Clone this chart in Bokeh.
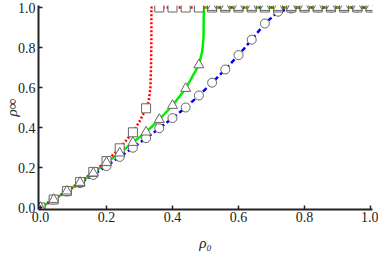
from bokeh.plotting import figure
from bokeh.models import FixedTicker, PrintfTickFormatter
from bokeh.embed import file_html
from bokeh.resources import INLINE

# ---- data ----
marker_x = [0.00, 0.04, 0.08, 0.12, 0.16, 0.20, 0.24, 0.28, 0.32, 0.36, 0.40, 0.44, 0.48,
            0.52, 0.56, 0.60, 0.64, 0.68, 0.72, 0.76, 0.80, 0.84, 0.88, 0.92, 0.96, 1.00]

red_sq_y = [0.0, 0.04, 0.082, 0.127, 0.178, 0.232, 0.296, 0.376, 0.496,
            1.0, 1.0, 1.0, 1.0, 1.0, 1.0, 1.0, 1.0, 1.0, 1.0, 1.0, 1.0, 1.0, 1.0, 1.0, 1.0, 1.0]
green_tri_y = [0.0, 0.04, 0.082, 0.125, 0.172, 0.225, 0.272, 0.325, 0.377, 0.44, 0.51, 0.595, 0.713,
               1.0, 1.0, 1.0, 1.0, 1.0, 1.0, 1.0, 1.0, 1.0, 1.0, 1.0, 1.0, 1.0]
blue_circ_y = [0.0, 0.04, 0.08, 0.122, 0.163, 0.207, 0.253, 0.299, 0.347, 0.396, 0.447, 0.50, 0.56,
               0.624, 0.69, 0.762, 0.839, 0.92, 0.979, 0.995, 1.0, 1.0, 1.0, 1.0, 1.0, 1.0]

red_line_x = [0.0, 0.04, 0.08, 0.12, 0.16, 0.20, 0.24, 0.28, 0.30, 0.32, 0.328, 0.333, 0.335, 0.336, 0.336, 1.0]
red_line_y = [0.0, 0.04, 0.082, 0.127, 0.178, 0.232, 0.296, 0.376, 0.43, 0.496, 0.53, 0.6, 0.7, 0.85, 1.0, 1.0]

green_line_x = [0.0, 0.04, 0.08, 0.12, 0.16, 0.20, 0.24, 0.28, 0.32, 0.36, 0.40, 0.44, 0.48, 0.49, 0.494, 0.495, 1.0]
green_line_y = [0.0, 0.04, 0.082, 0.125, 0.172, 0.225, 0.272, 0.325, 0.377, 0.44, 0.51, 0.595, 0.713, 0.78, 0.85, 1.0, 1.0]

blue_line_x = [0.0, 0.04, 0.08, 0.12, 0.16, 0.20, 0.24, 0.28, 0.32, 0.36, 0.40, 0.44, 0.48,
               0.52, 0.56, 0.60, 0.64, 0.68, 0.72, 0.76, 0.78, 1.0]
blue_line_y = [0.0, 0.04, 0.08, 0.122, 0.163, 0.207, 0.253, 0.299, 0.347, 0.396, 0.447, 0.50, 0.56,
               0.624, 0.69, 0.762, 0.839, 0.92, 0.979, 0.995, 1.0, 1.0]

ticks = [0.0, 0.2, 0.4, 0.6, 0.8, 1.0]
x_label = "ρ₀"
y_label = "ρ∞"

FONT = "Liberation Serif"

p = figure(width=378, height=253, x_range=(-0.006, 1.006), y_range=(-0.01, 1.01),
           output_backend="svg", toolbar_location=None,
           min_border_left=37, min_border_right=6, min_border_top=5, min_border_bottom=44)
p.outline_line_color = None
p.grid.visible = False
p.background_fill_color = "white"
p.border_fill_color = "white"

for ax in (p.xaxis[0], p.yaxis[0]):
    ax.ticker = FixedTicker(ticks=ticks)
    ax.formatter = PrintfTickFormatter(format="%.1f")
    ax.axis_line_width = 2
    ax.axis_line_color = "#222222"
    ax.major_tick_in = 4
    ax.major_tick_out = 0
    ax.major_tick_line_width = 1.5
    ax.major_tick_line_color = "#222222"
    ax.minor_tick_line_color = None
    ax.major_label_text_font = FONT
    ax.major_label_text_font_size = "14px"
    ax.major_label_text_color = "#222222"
    ax.major_label_standoff = 3
    ax.axis_label_text_font = FONT
    ax.axis_label_text_font_size = "15px"
    ax.axis_label_text_font_style = "italic"
    ax.axis_label_text_color = "#222222"
p.xaxis[0].axis_label = x_label
p.yaxis[0].axis_label = y_label
p.xaxis[0].major_label_standoff = 2
p.xaxis[0].axis_label_standoff = 10
p.yaxis[0].axis_label_standoff = -5

# lines
p.line(blue_line_x, blue_line_y, line_color="#0000ff", line_width=2.5, line_dash="5 3")
p.line(green_line_x, green_line_y, line_color="#00ee00", line_width=2.5)
p.line(red_line_x, red_line_y, line_color="#ff0000", line_width=2.5, line_dash="2 2")

# markers
mk = dict(fill_color="white", line_color="#666666", line_width=1)
p.scatter(marker_x, blue_circ_y, marker="circle", size=9, **mk)
p.scatter(marker_x, red_sq_y, marker="square", size=9, **mk)
p.scatter(marker_x, green_tri_y, marker="triangle", size=10, **mk)

open("out.html", "w").write(file_html(p, INLINE))
